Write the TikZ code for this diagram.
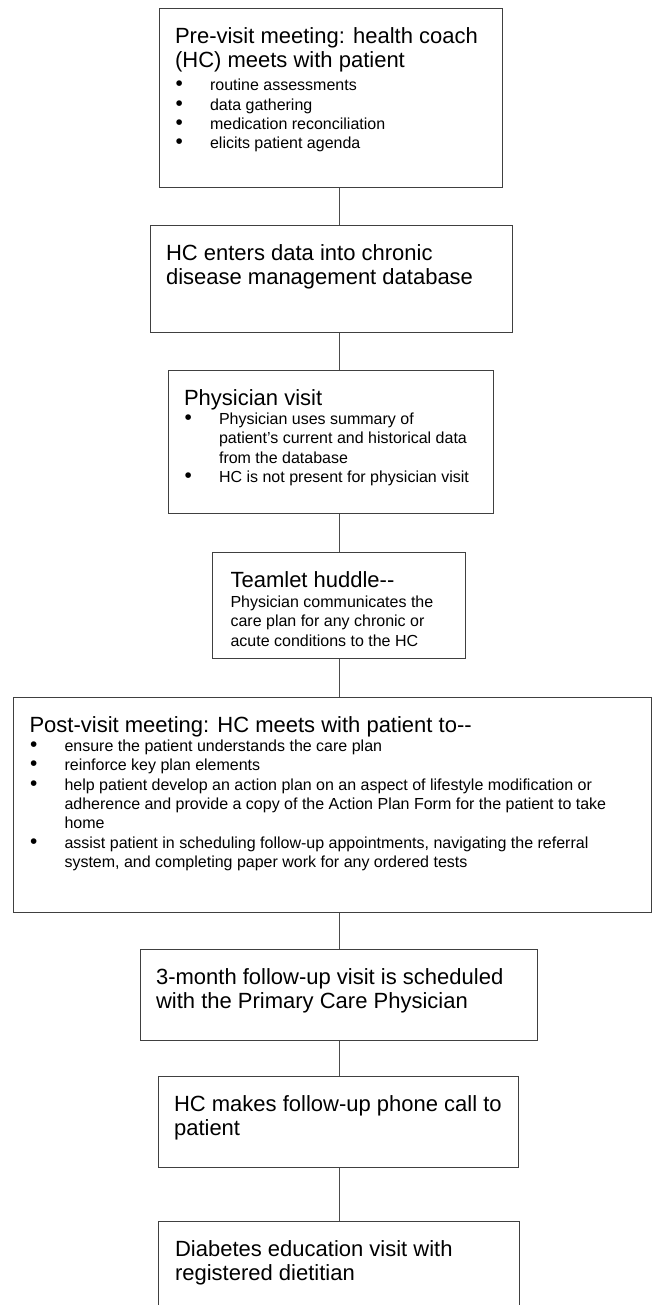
\documentclass[tikz,border=0pt]{standalone}
\usepackage{fontspec}
\setmainfont{Liberation Sans}
\usetikzlibrary{shapes,arrows}

\newlength{\bind}\setlength{\bind}{35pt}
\newcommand{\ttl}[1]{{\fontsize{22}{24.5}\selectfont\strut#1\par}}
\newcommand{\bpoint}[1]{\par\hangindent=\bind\hangafter=1\noindent\makebox[\bind][l]{\hspace{0.5pt}\scalebox{1.3}{\textbullet}}#1\par}
\newcommand{\panel}[4][15.5pt]{\begin{minipage}[t][#3][t]{#2}\raggedright\leftskip=#1\relax\parskip=0pt\fontsize{16}{19.3}\selectfont\vspace*{17.5pt}#4\end{minipage}}
\newcommand{\dd}{-\kern0pt-}

\begin{document}
\begin{tikzpicture}[x=1pt, y=-1pt]
        % Define block styles
        \tikzstyle{stepbox} = [rectangle, draw=black!75, line width=1.1pt, fill=white,
            inner sep=0pt, anchor=north west]
        \tikzstyle{line} = [draw=black!70, line width=0.8pt]

        \path [use as bounding box, clip] (0,0) rectangle (652,1305);

        % Nodes
        \node [stepbox] (pre) at (159,8) {\panel{343pt}{179pt}{%
            \ttl{Pre-visit meeting: health coach\\(HC) meets with patient}\vspace{4pt}%
            \bpoint{routine assessments}\bpoint{data gathering}%
            \bpoint{medication reconciliation}\bpoint{elicits patient agenda}}};
        \node [stepbox] (enter) at (150,225) {\panel{362pt}{107pt}{%
            \ttl{HC enters data into chronic\\disease management database}}};
        \node [stepbox] (visit) at (168,370) {\panel{325pt}{143pt}{%
            \ttl{Physician visit}%
            \bpoint{Physician uses summary of\newline patient’s current and historical data\newline from the database}%
            \bpoint{HC is not present for physician visit}}};
        \node [stepbox] (huddle) at (212,552) {\panel[18pt]{253pt}{106pt}{%
            \ttl{Teamlet huddle\dd}\vspace{1pt}%
            Physician communicates the\\care plan for any chronic or\\acute conditions to the HC}};
        \node [stepbox] (post) at (13,697) {\panel[16pt]{638pt}{215pt}{%
            \ttl{Post-visit meeting: HC meets with patient to\dd}%
            \bpoint{ensure the patient understands the care plan}%
            \bpoint{reinforce key plan elements}%
            \bpoint{help patient develop an action plan on an aspect of lifestyle modification or\newline adherence and provide a copy of the Action Plan Form for the patient to take\newline home}%
            \bpoint{assist patient in scheduling follow-up appointments, navigating the referral\newline system, and completing paper work for any ordered tests}}};
        \node [stepbox] (follow) at (140,949) {\panel{397pt}{91pt}{%
            \ttl{3-month follow-up visit is scheduled\\with the Primary Care Physician}}};
        \node [stepbox] (phone) at (158,1076) {\panel{360pt}{91pt}{%
            \ttl{HC makes follow-up phone call to\\patient}}};
        \node [stepbox] (diet) at (158,1221) {\panel[16.5pt]{361pt}{110pt}{%
            \ttl{Diabetes education visit with\\registered dietitian}}};
        \coordinate (spine) at (339,0);

        % Lines
        \path [line] (pre.south -| spine) -- (enter.north -| spine);
        \path [line] (enter.south -| spine) -- (visit.north -| spine);
        \path [line] (visit.south -| spine) -- (huddle.north -| spine);
        \path [line] (huddle.south -| spine) -- (post.north -| spine);
        \path [line] (post.south -| spine) -- (follow.north -| spine);
        \path [line] (follow.south -| spine) -- (phone.north -| spine);
        \path [line] (phone.south -| spine) -- (diet.north -| spine);
    \end{tikzpicture}
\end{document}
